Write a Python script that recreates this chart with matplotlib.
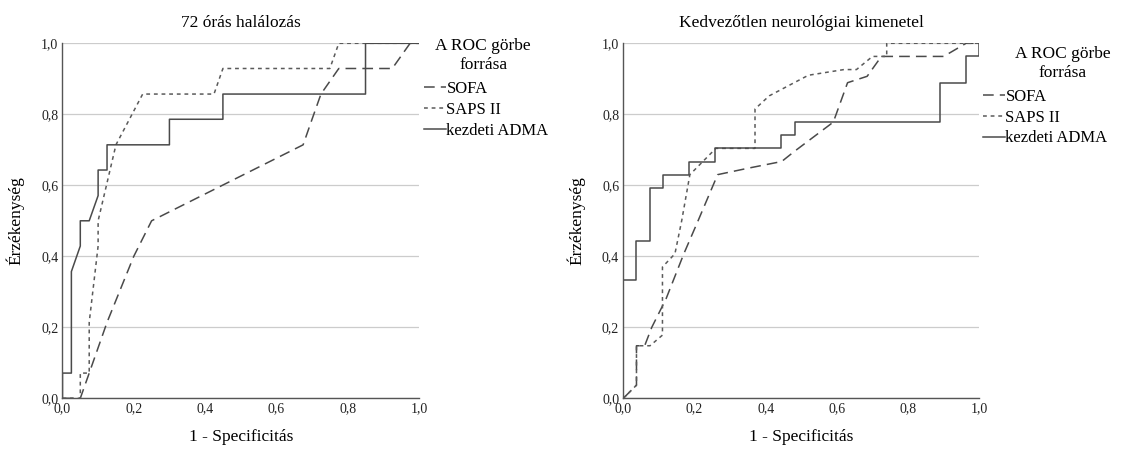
import matplotlib.pyplot as plt
from matplotlib.ticker import FuncFormatter

plt.rcParams['font.family'] = ['Liberation Serif', 'DejaVu Serif']

# 72 órás halálozás
left_sofa_x = [0, 0.05, 0.075, 0.125, 0.2, 0.25, 0.675, 0.7, 0.725, 0.775, 0.925, 0.975, 1.0]
left_sofa_y = [0, 0, 0.071, 0.214, 0.4, 0.5, 0.714, 0.786, 0.857, 0.929, 0.929, 1.0, 1.0]
left_saps_x = [0, 0.05, 0.05, 0.075, 0.075, 0.1, 0.1, 0.15, 0.225, 0.425, 0.45, 0.75, 0.775, 1.0]
left_saps_y = [0, 0, 0.071, 0.071, 0.214, 0.429, 0.5, 0.714, 0.857, 0.857, 0.929, 0.929, 1.0, 1.0]
left_adma_x = [0, 0, 0.025, 0.025, 0.05, 0.05, 0.075, 0.1, 0.1, 0.125, 0.125, 0.3, 0.3,
               0.45, 0.45, 0.85, 0.85, 1.0]
left_adma_y = [0, 0.071, 0.071, 0.357, 0.429, 0.5, 0.5, 0.571, 0.643, 0.643, 0.714, 0.714, 0.786,
               0.786, 0.857, 0.857, 1.0, 1.0]

# Kedvezőtlen neurológiai kimenetel
right_sofa_x = [0, 0.037, 0.037, 0.06, 0.08, 0.12, 0.17, 0.21, 0.265, 0.35, 0.445, 0.48, 0.59,
                0.63, 0.685, 0.725, 0.9, 0.963, 1.0]
right_sofa_y = [0, 0.037, 0.148, 0.148, 0.2, 0.28, 0.407, 0.5, 0.63, 0.648, 0.667, 0.695, 0.778,
                0.889, 0.907, 0.963, 0.963, 1.0, 1.0]
right_saps_x = [0, 0.037, 0.037, 0.075, 0.11, 0.11, 0.145, 0.164, 0.187, 0.26, 0.37, 0.37, 0.41,
                0.48, 0.52, 0.62, 0.655, 0.7, 0.74, 0.74, 1.0]
right_saps_y = [0, 0.037, 0.148, 0.148, 0.178, 0.37, 0.407, 0.5, 0.63, 0.704, 0.704, 0.815, 0.852,
                0.889, 0.91, 0.926, 0.926, 0.963, 0.963, 1.0, 1.0]
right_adma_x = [0, 0, 0.037, 0.037, 0.074, 0.074, 0.111, 0.111, 0.185, 0.185, 0.259, 0.259,
                0.444, 0.444, 0.481, 0.481, 0.889, 0.889, 0.963, 0.963, 1.0, 1.0]
right_adma_y = [0, 0.333, 0.333, 0.444, 0.444, 0.593, 0.593, 0.63, 0.63, 0.667, 0.667, 0.704,
                0.704, 0.741, 0.741, 0.778, 0.778, 0.889, 0.889, 0.963, 0.963, 1.0]

titles = ['72 órás halálozás', 'Kedvezőtlen neurológiai kimenetel']
labels = ['SOFA', 'SAPS II', 'kezdeti ADMA']
leg_title = 'A ROC görbe\nforrása'
ticks = [0.0, 0.2, 0.4, 0.6, 0.8, 1.0]

line_col = '#4a4a4a'
comma = FuncFormatter(lambda v, p: '{:.1f}'.format(v).replace('.', ','))

fig = plt.figure(figsize=(11.42, 4.5), dpi=100)
ax1 = fig.add_axes([0.0547, 0.1149, 0.3122, 0.7889])
ax2 = fig.add_axes([0.5458, 0.1149, 0.3117, 0.7889])

panels = [
    (ax1, left_sofa_x, left_sofa_y, left_saps_x, left_saps_y, left_adma_x, left_adma_y),
    (ax2, right_sofa_x, right_sofa_y, right_saps_x, right_saps_y, right_adma_x, right_adma_y),
]
leg_anchor = [(0.995, 0.912), (0.9916, 0.890)]
title_pos = [(1.18, 0.9656), (1.235, 0.9417)]

for i, (ax, sx, sy, px, py, ax_, ay) in enumerate(panels):
    ax.plot(sx, sy, color=line_col, lw=1.1, dashes=(7, 4), label=labels[0])
    ax.plot(px, py, color='#5a5a5a', lw=1.1, dashes=(2.5, 2.5), label=labels[1])
    ax.plot(ax_, ay, color=line_col, lw=1.1, label=labels[2])
    ax.set_xlim(0, 1)
    ax.set_ylim(0, 1)
    ax.set_xticks(ticks)
    ax.set_yticks(ticks)
    ax.xaxis.set_major_formatter(comma)
    ax.yaxis.set_major_formatter(comma)
    ax.tick_params(length=0, labelsize=10, pad=3, colors='#222222')
    ax.grid(axis='y', color='#cccccc', lw=0.9)
    ax.set_axisbelow(True)
    for s in ['top', 'right']:
        ax.spines[s].set_visible(False)
    for s in ['left', 'bottom']:
        ax.spines[s].set_color('#555555')
        ax.spines[s].set_linewidth(1.0)
    ax.set_title(titles[i], fontsize=12.5, pad=12)
    ax.set_xlabel('1 - Specificitás', fontsize=12.5, labelpad=10)
    ax.set_ylabel('Érzékenység', fontsize=12.5, labelpad=12)
    ax.legend(loc='upper left', bbox_to_anchor=leg_anchor[i], frameon=False,
              fontsize=12, handlelength=1.3, handletextpad=0.05, labelspacing=0.28,
              borderaxespad=0)
    ax.text(title_pos[i][0], title_pos[i][1], leg_title, transform=ax.transAxes,
            ha='center', va='center', multialignment='center', fontsize=12.5,
            linespacing=1.25)

fig.savefig('out.png', dpi=100)
